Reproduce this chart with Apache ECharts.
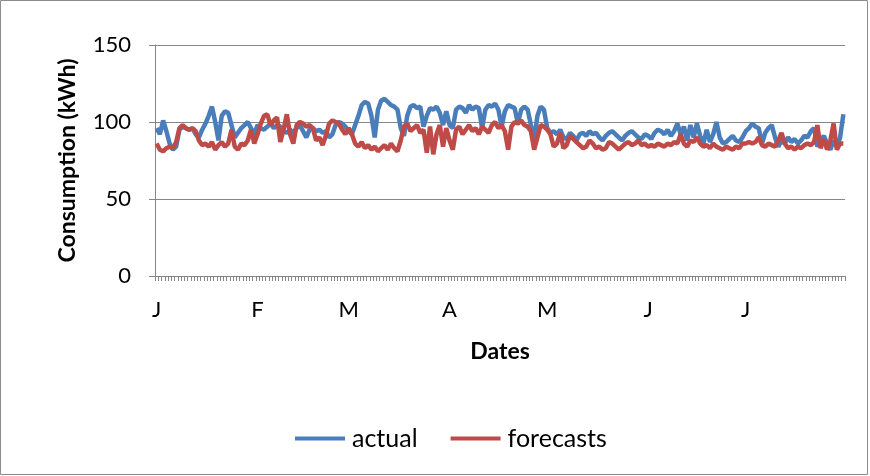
<!DOCTYPE html>
<html><head><meta charset="utf-8">
<script src="https://cdn.jsdelivr.net/npm/echarts@6/dist/echarts.min.js"></script>
<style>html,body{margin:0;padding:0;background:#fff}#c{width:870px;height:476px}</style>
</head><body><div id="c"></div>
<script>
// Daily values, 1 Jan - 31 Jul (212 days)
const monthLabels = ["J","F","M","A","M","J","J"];
const monthDays = [31,28,31,30,31,30,31];
const actualJan = [96,92,101,94,86,82,84,95,97,96,95,96,92,90,95,99,104,110,100,88,104,107,106,98,90,93,96,98,100,96,92];
const actualFeb = [98,96,95,97,99,96,98,97,94,93,95,93,96,98,94,90,95,96,94,95,93,94,90,92,98,100,99,97];
const actualMar = [94,92,98,104,111,113,112,104,90,108,114,115,113,111,110,108,96,91,104,110,111,109,110,97,104,109,108,110,106,98,107];
const actualApr = [98,96,108,110,109,106,111,108,110,109,96,108,111,110,112,108,97,107,111,110,109,99,108,110,108,98,89,104,110,108];
const actualMay = [96,93,94,92,95,90,89,93,91,88,92,93,91,94,92,93,90,88,91,93,94,92,90,88,91,93,94,92,90,89,92];
const actualJun = [91,89,93,95,94,92,95,91,94,99,92,97,88,98,90,99,91,86,95,87,92,100,90,86,87,89,91,88,87,90];
const actualJul = [94,96,99,97,96,86,93,96,98,90,84,88,86,90,87,89,86,88,91,90,94,96,84,88,91,86,82,88,84,90,105];
const forecastJan = [86,82,81,83,84,83,87,96,98,96,95,96,94,88,85,86,84,87,82,85,87,84,86,95,84,82,86,85,88,95,86];
const forecastFeb = [92,99,104,105,98,101,103,87,95,105,92,86,98,100,99,97,98,96,88,90,85,91,99,101,100,99,95,92];
const forecastMar = [96,92,86,84,87,83,85,82,84,81,83,85,82,86,83,81,88,97,99,94,96,98,93,95,80,97,79,92,98,84,96];
const forecastApr = [88,82,95,97,92,95,98,94,96,92,97,95,93,98,100,96,98,94,82,97,100,99,101,98,97,94,82,90,98,97];
const forecastMay = [95,92,84,86,93,83,85,91,89,87,85,83,84,88,86,83,84,82,83,87,86,84,82,84,86,87,85,86,88,85,86];
const forecastJun = [84,85,84,86,85,84,86,85,87,86,92,86,84,88,87,90,86,84,85,83,86,84,83,82,84,83,82,84,83,86];
const forecastJul = [86,87,86,87,90,85,84,86,85,84,88,93,86,83,84,82,84,83,85,86,85,87,98,83,89,82,88,99,82,86,86];

const actual = [].concat(actualJan,actualFeb,actualMar,actualApr,actualMay,actualJun,actualJul);
const forecasts = [].concat(forecastJan,forecastFeb,forecastMar,forecastApr,forecastMay,forecastJun,forecastJul);

const dates = [];
const monthStart = {};
let idx = 0;
monthDays.forEach((n, m) => {
  monthStart[idx] = monthLabels[m];
  for (let d = 1; d <= n; d++) { dates.push((m + 1) + '/' + d); idx++; }
});

const font = 'Lato, "Open Sans", sans-serif';
const chart = echarts.init(document.getElementById('c'), null, {renderer: 'canvas'});
chart.setOption({
  animation: false,
  backgroundColor: '#fff',
  graphic: [{type: 'rect', shape: {x: 0.5, y: 0.5, width: 867, height: 474}, style: {fill: 'none', stroke: '#8c8c8c', lineWidth: 1}, silent: true}],
  grid: {left: 155, right: 25, top: 45, bottom: 200},
  xAxis: {
    type: 'category', data: dates, boundaryGap: true,
    name: 'Dates', nameLocation: 'middle', nameGap: 64,
    nameTextStyle: {fontFamily: font, fontSize: 23, fontWeight: 'bold', color: '#000'},
    axisLine: {lineStyle: {color: '#868686', width: 1}},
    axisTick: {show: true, interval: 0, length: 5, lineStyle: {color: '#868686'}},
    axisLabel: {
      interval: (i) => monthStart[i] !== undefined,
      formatter: (v, i) => monthStart[i] || '',
      margin: 23, fontFamily: font, fontSize: 22, color: '#000'
    }
  },
  yAxis: {
    type: 'value', min: 0, max: 150, interval: 50,
    name: 'Consumption (kWh)', nameLocation: 'middle', nameGap: 76, nameRotate: 90,
    nameTextStyle: {fontFamily: font, fontSize: 23, fontWeight: 'bold', color: '#000'},
    axisLine: {show: true, lineStyle: {color: '#868686'}},
    axisTick: {show: true, length: 6, lineStyle: {color: '#868686'}},
    axisLabel: {margin: 24, fontFamily: font, fontSize: 22, color: '#000'},
    splitLine: {lineStyle: {color: '#868686', width: 1}}
  },
  legend: {
    left: 290, top: 421, itemWidth: 50, itemHeight: 4, itemGap: 33, icon: 'rect',
    textStyle: {fontFamily: font, fontSize: 25, color: '#000', padding: [0, 0, 0, 2]},
    data: ['actual', 'forecasts']
  },
  series: [
    {name: 'actual', type: 'line', data: actual, symbol: 'none', lineStyle: {width: 4.5, color: '#4a7ebb'}, itemStyle: {color: '#4a7ebb'}},
    {name: 'forecasts', type: 'line', data: forecasts, symbol: 'none', lineStyle: {width: 4.5, color: '#be4b48'}, itemStyle: {color: '#be4b48'}}
  ]
});
</script></body></html>
